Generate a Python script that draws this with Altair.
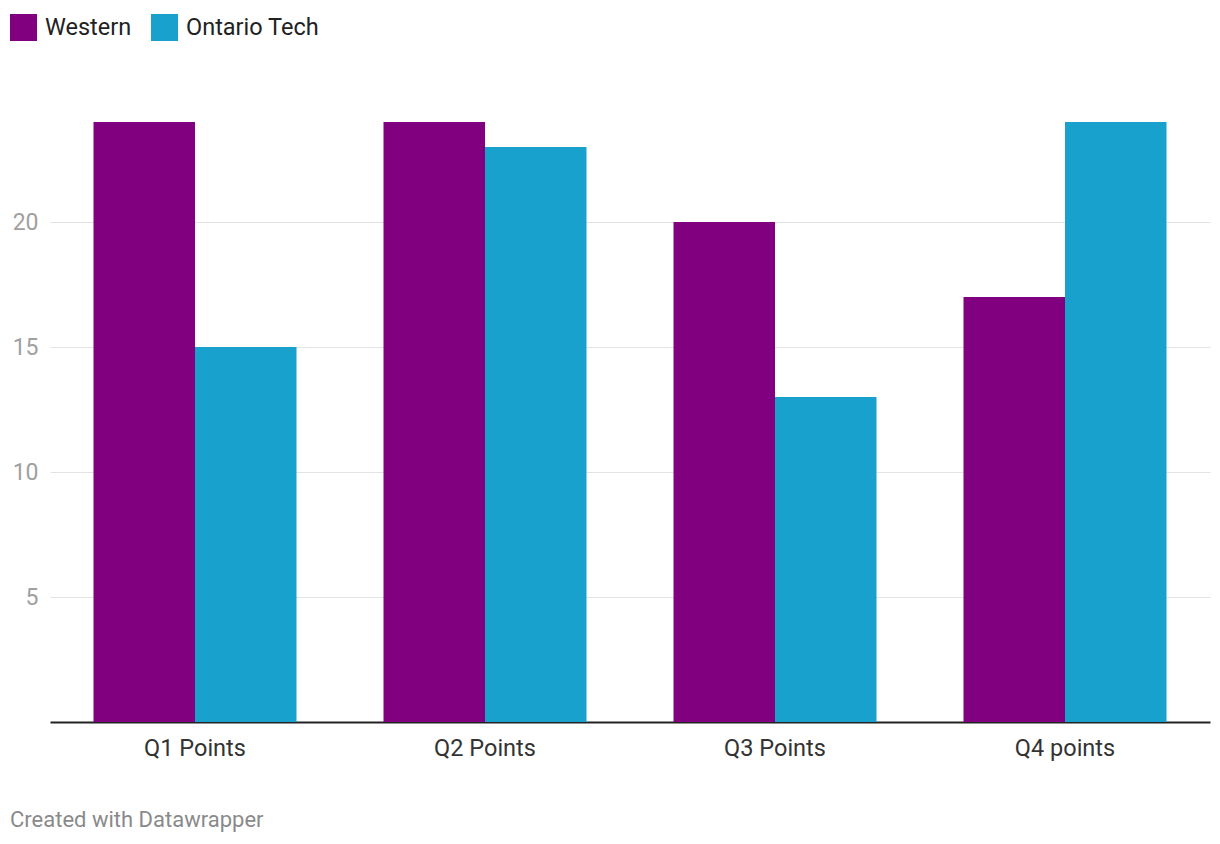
import altair as alt
import pandas as pd

quarters = ["Q1 Points", "Q2 Points", "Q3 Points", "Q4 points"]
teams = ["Western", "Ontario Tech"]
western = [24, 24, 20, 17]
ontario = [15, 23, 13, 24]
colors = ["#81007f", "#19a1cd"]
y_ticks = [5, 10, 15, 20]

rows = []
for q, w, o in zip(quarters, western, ontario):
    rows.append({"quarter": q, "team": "Western", "value": w})
    rows.append({"quarter": q, "team": "Ontario Tech", "value": o})
df = pd.DataFrame(rows)

FONT = "Roboto"

bars = alt.Chart(df).mark_bar().encode(
    x=alt.X("quarter:N", sort=quarters,
            scale=alt.Scale(paddingInner=0.3, paddingOuter=0.15),
            axis=alt.Axis(title=None, labelAngle=0, ticks=False, domain=True,
                          domainColor="#222222", domainWidth=2,
                          labelFontSize=23.5, labelColor="#333333", labelFont=FONT,
                          labelPadding=14, grid=False)),
    xOffset=alt.XOffset("team:N", sort=teams),
    y=alt.Y("value:Q", scale=alt.Scale(domain=[0, 24], nice=False),
            axis=alt.Axis(title=None, values=y_ticks, ticks=False, domain=False,
                          grid=True, gridColor="#e3e3e3", gridWidth=1,
                          labelFontSize=23, labelColor="#a0a0a0", labelFont=FONT,
                          labelPadding=12)),
    color=alt.Color("team:N", sort=teams,
                    scale=alt.Scale(domain=teams, range=colors),
                    legend=alt.Legend(title=None, orient="none", legendX=-40, legendY=-108,
                                      direction="horizontal", symbolType="square",
                                      symbolSize=729, symbolStrokeWidth=0,
                                      labelFontSize=23.5, labelFont=FONT, labelColor="#222222",
                                      labelOffset=8, columnPadding=19)),
)

footer = alt.Chart(pd.DataFrame({"t": ["Created with Datawrapper"]})).mark_text(
    align="left", baseline="middle", fontSize=22, font=FONT, color="#8a8a8a"
).encode(text="t:N", x=alt.value(-40), y=alt.value(698))

chart = alt.layer(bars, footer).properties(
    width=1160, height=600,
    padding={"left": 42, "top": 114, "right": 2, "bottom": 114},
    autosize=alt.AutoSizeParams(type="none"),
).configure_view(stroke=None).configure_scale(bandPaddingInner=0.3)

chart.save("out.html", embed_options={"renderer": "svg", "actions": False})
